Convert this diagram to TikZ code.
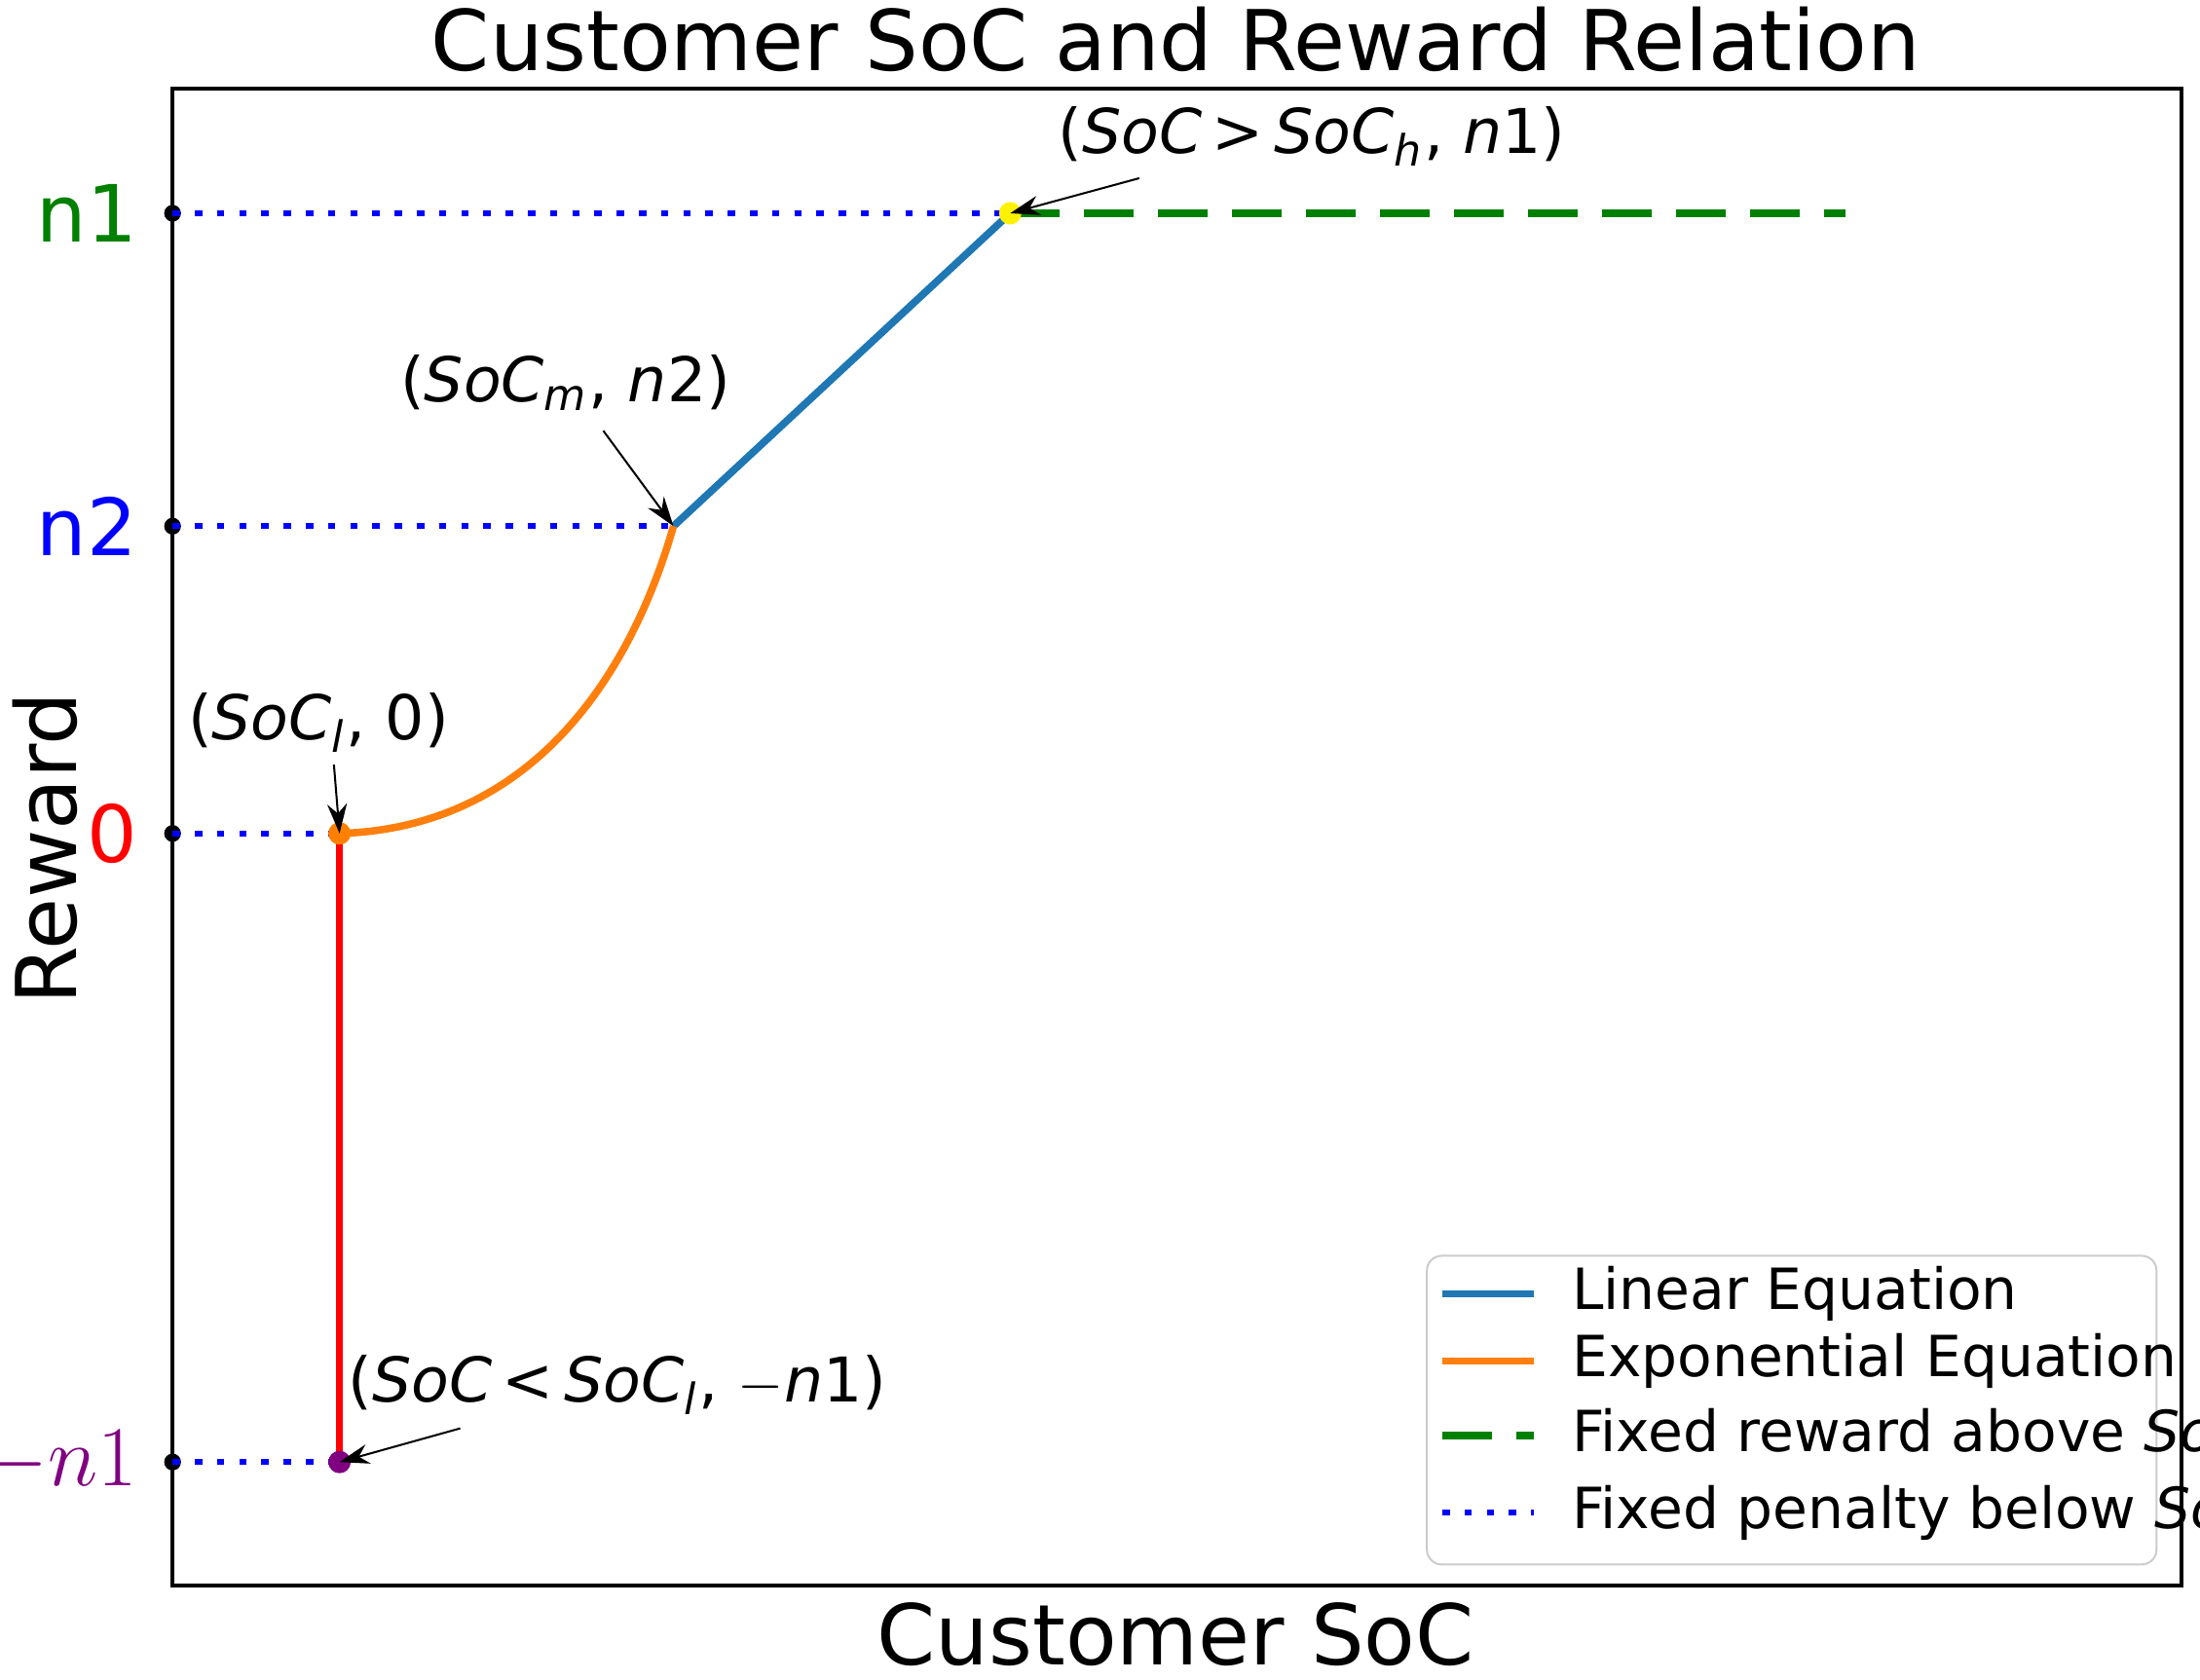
\documentclass[tikz,border=0pt]{standalone}
\usepackage{fontspec}
\setmainfont{DejaVu Sans}
\usetikzlibrary{positioning, arrows.meta}
\definecolor{lincol}{HTML}{1F77B4}
\definecolor{expcol}{HTML}{FF7F0E}
\definecolor{fixcol}{HTML}{008000}
\newcommand{\soc}{\textit{SoC}}
\begin{document}
\begin{tikzpicture}[x=0.01cm, y=-0.01cm,
  tick/.style={font=\fontsize{16}{18}\selectfont, anchor=east},
  note/.style={font=\fontsize{12.5}{14}\selectfont},
  callout/.style={-{Stealth[length=6pt,width=4pt]}, thin},
  dots/.style={blue, line width=1.2pt, dash pattern=on 1.5pt off 3pt},
  legtext/.style={font=\fontsize{11.5}{13}\selectfont, anchor=west}]
\useasboundingbox (0,0) rectangle (1568,1197);
% axes
\draw[line width=0.8pt] (123,63) rectangle (1555,1130);
\node[font=\fontsize{17}{20}\selectfont] (title) at (838,28) {Customer SoC and Reward Relation};
\node[font=\fontsize{17}{20}\selectfont] (xlab) at (838,1165) {Customer SoC};
\node[font=\fontsize{17}{20}\selectfont, rotate=90] (ylab) at (32,605) {Reward};
% points
\coordinate (low) at (242,594);
\coordinate (mid) at (480,375);
\coordinate (high) at (720,152);
\coordinate (penalty) at (242,1042);
\coordinate (far) at (1315,152);
% y ticks
\foreach \y/\name/\col/\txt in {152/t1/fixcol/n1, 375/t2/blue/n2, 594/t0/red/0, 1042/tm/violet/$-n1$}{
  \fill (123,\y) circle (6);
  \node[tick, text=\col] (\name) at (110,\y) {\txt};
}
% curves
\draw[dots] (123,152) -- (high);
\draw[dots] (123,375) -- (mid);
\draw[dots] (123,594) -- (low);
\draw[dots] (123,1042) -- (penalty);
\draw[fixcol, line width=1.5pt, dash pattern=on 10pt off 5pt] (high) -- (far);
\draw[lincol, line width=1.5pt] (mid) -- (high);
\draw[expcol, line width=1.5pt] (low) .. controls (380,590) and (450,480) .. (mid);
\draw[red, line width=1.5pt] (low) -- (penalty);
\fill[yellow] (high) circle (8);
\fill[orange] (low) circle (8);
\fill[violet] (penalty) circle (8);
% annotations
\node[note] (nhigh) at (935,97) {(\soc\,>\,\soc\textsubscript{\textit{h}}, \textit{n}1)};
\node[note] (nmid) at (403,273) {(\soc\textsubscript{\textit{m}}, \textit{n}2)};
\node[note] (nlow) at (227,515) {(\soc\textsubscript{\textit{l}}, 0)};
\node[note] (npen) at (440,987) {(\soc\,<\,\soc\textsubscript{\textit{l}}, $-$\textit{n}1)};
\draw[callout] (812,127) -- (high);
\draw[callout] (430,307) -- (mid);
\draw[callout] (238,545) -- (low);
\draw[callout] (328,1018) -- (penalty);
% legend
\draw[rounded corners=3pt, draw=black!20, fill=white] (1017,895) rectangle (1537,1115);
\draw[lincol, line width=1.5pt] (1028,922) -- (1093,922);
\draw[expcol, line width=1.5pt] (1028,970) -- (1093,970);
\draw[fixcol, line width=1.5pt, dash pattern=on 10pt off 5pt] (1028,1023) -- (1093,1023);
\draw[dots] (1028,1078) -- (1093,1078);
\node[legtext] (l1) at (1108,922) {Linear Equation};
\node[legtext] (l2) at (1108,970) {Exponential Equation};
\node[legtext] (l3) at (1108,1023) {Fixed reward above \soc\textsubscript{\textit{h}}};
\node[legtext] (l4) at (1108,1078) {Fixed penalty below \soc\textsubscript{\textit{l}}};
\end{tikzpicture}
\end{document}
